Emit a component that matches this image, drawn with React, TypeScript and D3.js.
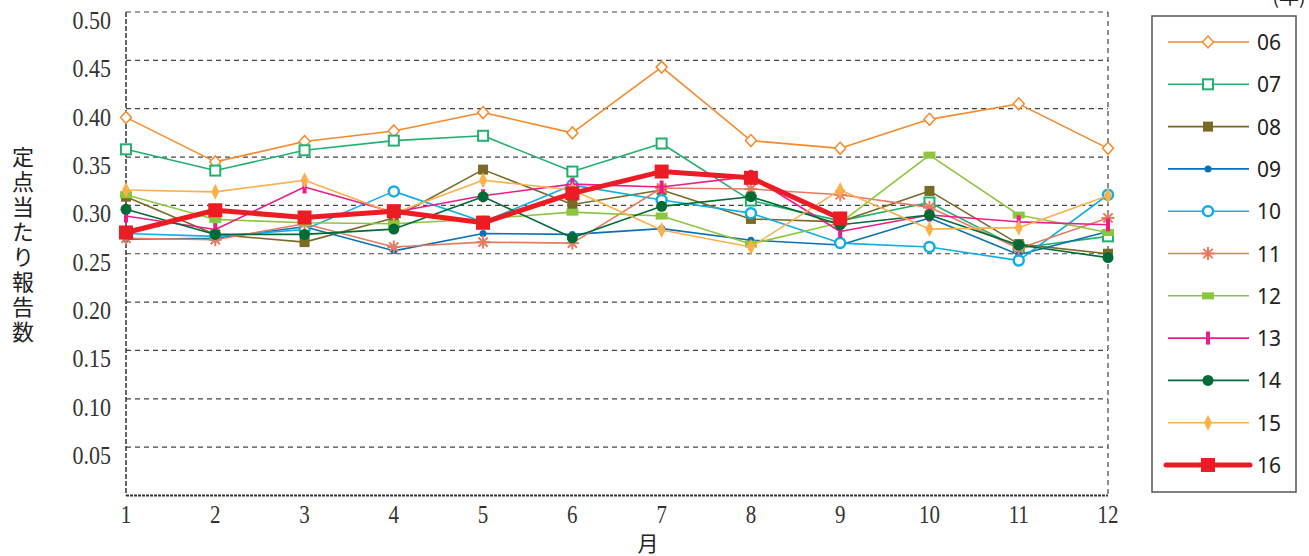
import React from "react";
import * as d3 from "d3";

const months = [1, 2, 3, 4, 5, 6, 7, 8, 9, 10, 11, 12];
const yTicks = [0.05, 0.1, 0.15, 0.2, 0.25, 0.3, 0.35, 0.4, 0.45, 0.5];
const yTickLabels = ["0.05", "0.10", "0.15", "0.20", "0.25", "0.30", "0.35", "0.40", "0.45", "0.50"];

const s06 = [0.391, 0.345, 0.366, 0.377, 0.396, 0.375, 0.443, 0.367, 0.359, 0.389, 0.405, 0.359];
const s07 = [0.358, 0.336, 0.357, 0.367, 0.372, 0.335, 0.364, 0.305, 0.284, 0.303, 0.256, 0.268];
const s08 = [0.309, 0.270, 0.262, 0.287, 0.337, 0.301, 0.316, 0.286, 0.283, 0.315, 0.260, 0.250];
const s09 = [0.265, 0.266, 0.278, 0.253, 0.271, 0.270, 0.276, 0.264, 0.259, 0.287, 0.249, 0.273];
const s10 = [0.271, 0.268, 0.275, 0.3145, 0.283, 0.321, 0.3055, 0.292, 0.261, 0.257, 0.243, 0.311];
const s11 = [0.266, 0.2645, 0.281, 0.257, 0.262, 0.261, 0.318, 0.317, 0.311, 0.298, 0.2555, 0.287];
const s12 = [0.311, 0.2855, 0.282, 0.281, 0.286, 0.293, 0.289, 0.260, 0.282, 0.352, 0.290, 0.272];
const s13 = [0.289, 0.275, 0.319, 0.293, 0.310, 0.322, 0.319, 0.330, 0.273, 0.290, 0.283, 0.280];
const s14 = [0.296, 0.270, 0.270, 0.2755, 0.309, 0.2665, 0.299, 0.309, 0.280, 0.290, 0.259, 0.246];
const s15 = [0.316, 0.314, 0.326, 0.292, 0.326, 0.316, 0.2745, 0.257, 0.316, 0.2755, 0.277, 0.310];
const s16 = [0.272, 0.295, 0.2875, 0.294, 0.282, 0.3125, 0.335, 0.3285, 0.2865];

const seriesNames = ["06", "07", "08", "09", "10", "11", "12", "13", "14", "15", "16"];
const seriesValues = [s06, s07, s08, s09, s10, s11, s12, s13, s14, s15, s16];
const seriesColors = ["#F58A2A", "#22B06E", "#7A6A25", "#0B70B8", "#10AEE6", "#E67B60", "#8CC63F", "#EC1C8C", "#006B35", "#FBB04A", "#ED1C24"];
const seriesMarkers = ["diamondOpen", "squareOpen", "square", "dot", "circleOpen", "asterisk", "rectWide", "bar", "circle", "diamondTall", "squareBig"];

const W = 1309;
const H = 556;
const x = d3.scaleLinear().domain([1, 12]).range([126, 1108]);
const y = d3.scaleLinear().domain([0, 0.5]).range([495.5, 12]);

function Marker({ kind, color, cx, cy }: { kind: string; color: string; cx: number; cy: number }) {
  switch (kind) {
    case "diamondOpen":
      return <path d={`M${cx},${cy - 6}L${cx + 5.5},${cy}L${cx},${cy + 6}L${cx - 5.5},${cy}Z`} fill="#fff" stroke={color} strokeWidth={1.5} />;
    case "squareOpen":
      return <rect x={cx - 5} y={cy - 5} width={10} height={10} fill="#fff" stroke={color} strokeWidth={2} />;
    case "square":
      return <rect x={cx - 5} y={cy - 5} width={10} height={10} fill={color} />;
    case "dot":
      return <circle cx={cx} cy={cy} r={3.5} fill={color} />;
    case "circleOpen":
      return <circle cx={cx} cy={cy} r={5} fill="#fff" stroke={color} strokeWidth={2.5} />;
    case "asterisk": {
      const r = 6.5;
      const angles = [0, 45, 90, 135];
      return (
        <g stroke={color} strokeWidth={2}>
          {angles.map((a) => {
            const rad = (a * Math.PI) / 180;
            return <line key={a} x1={cx - r * Math.cos(rad)} y1={cy - r * Math.sin(rad)} x2={cx + r * Math.cos(rad)} y2={cy + r * Math.sin(rad)} />;
          })}
        </g>
      );
    }
    case "rectWide":
      return <rect x={cx - 6} y={cy - 3.5} width={12} height={7} fill={color} />;
    case "bar":
      return <rect x={cx - 2} y={cy - 6.5} width={4} height={13} fill={color} />;
    case "circle":
      return <circle cx={cx} cy={cy} r={5.5} fill={color} />;
    case "diamondTall":
      return <path d={`M${cx},${cy - 8}L${cx + 4},${cy}L${cx},${cy + 8}L${cx - 4},${cy}Z`} fill={color} />;
    case "squareBig":
      return <rect x={cx - 7} y={cy - 7} width={14} height={14} fill={color} />;
    default:
      return null;
  }
}

export default function App() {
  const line = d3
    .line<number>()
    .x((_, i) => x(months[i]))
    .y((d) => y(d));

  const legendX0 = 1168;
  const legendX1 = 1249;
  const legendMX = 1208;
  const legendY0 = 42;
  const legendStep = 42.3;

  return (
    <svg width={W} height={H} style={{ position: "absolute", left: 0, top: 0, background: "#fff" }}>
      {/* grid */}
      {yTicks.map((t) => (
        <line key={t} x1={126} x2={1108} y1={y(t)} y2={y(t)} stroke="#444" strokeWidth={1.2} strokeDasharray="5,4" />
      ))}
      <line x1={1108} x2={1108} y1={y(0.5)} y2={y(0)} stroke="#444" strokeWidth={1.2} strokeDasharray="5,4" />
      <line x1={126} x2={126} y1={y(0.5)} y2={y(0)} stroke="#333" strokeWidth={1.5} strokeDasharray="5,2" />
      <line x1={126} x2={1108} y1={y(0)} y2={y(0)} stroke="#333" strokeWidth={1.8} strokeDasharray="3,1" />

      {/* y tick labels */}
      {yTicks.map((t, i) => (
        <text
          key={t}
          transform={`translate(111,${y(t) + 17}) scale(1,1.18)`}
          textAnchor="end"
          fontFamily="'Liberation Serif', serif"
          fontSize={22}
          fill="#333"
        >
          {yTickLabels[i]}
        </text>
      ))}
      {/* x tick labels */}
      {months.map((m) => (
        <text key={m} transform={`translate(${x(m)},523) scale(1,1.18)`} textAnchor="middle" fontFamily="'Liberation Serif', serif" fontSize={21} fill="#333">
          {m}
        </text>
      ))}
      <text x={648} y={551} textAnchor="middle" fontFamily="'Noto Sans CJK JP', sans-serif" fontSize={21} fill="#222">
        月
      </text>
      <text
        x={23}
        y={146}
        writingMode="vertical-rl"
        fontFamily="'Noto Sans CJK JP', sans-serif"
        fontSize={22}
        letterSpacing={3}
        fill="#222"
      >
        定点当たり報告数
      </text>
      <text x={1289} y={4} textAnchor="middle" fontFamily="'Noto Sans CJK JP', sans-serif" fontSize={20} fill="#222">
        (年)
      </text>

      {/* series */}
      {seriesValues.map((vals, si) => {
        const color = seriesColors[si];
        const big = seriesMarkers[si] === "squareBig";
        return (
          <g key={seriesNames[si]}>
            <path d={line(vals) || ""} fill="none" stroke={color} strokeWidth={big ? 5 : 1.6} strokeLinejoin="round" />
            {vals.map((v, i) => (
              <Marker key={i} kind={seriesMarkers[si]} color={color} cx={x(months[i])} cy={y(v)} />
            ))}
          </g>
        );
      })}

      {/* legend */}
      <rect x={1152} y={16} width={144} height={476} fill="#fff" stroke="#555" strokeWidth={1.5} />
      {seriesNames.map((n, i) => {
        const cy = legendY0 + i * legendStep;
        const big = seriesMarkers[i] === "squareBig";
        return (
          <g key={n}>
            <line x1={big ? 1166 : legendX0} x2={big ? 1250 : legendX1} y1={cy} y2={cy} stroke={seriesColors[i]} strokeWidth={big ? 5 : 1.6} strokeLinecap={big ? "round" : "butt"} />
            <Marker kind={seriesMarkers[i]} color={seriesColors[i]} cx={legendMX} cy={cy} />
            <text x={1257} y={cy} dominantBaseline="central" fontFamily="'Noto Sans', sans-serif" fontSize={21} fill="#222">
              {n}
            </text>
          </g>
        );
      })}
    </svg>
  );
}
